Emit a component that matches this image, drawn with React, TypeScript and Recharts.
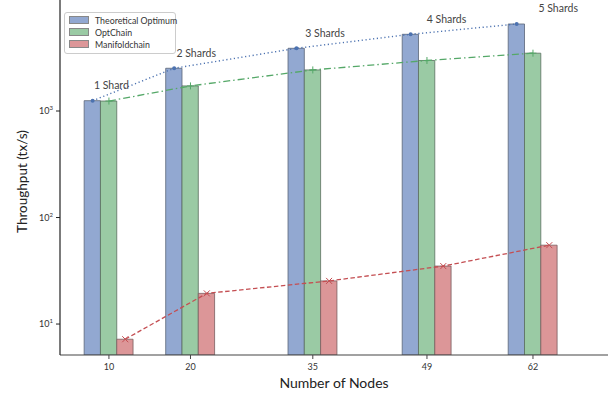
import { ComposedChart, Bar, Scatter, XAxis, YAxis, Legend, Label } from 'recharts'

const nodes = [10, 20, 35, 49, 62]
const theoretical = [1250, 2520, 3880, 5250, 6560]
const optChain = [1240, 1720, 2430, 2980, 3490]
const manifold = [7.2, 19.4, 25.4, 35, 55]
const shardLabels = ['1 Shard', '2 Shards', '3 Shards', '4 Shards', '5 Shards']
const shardLabelX = [10.3, 20.7, 36.5, 51.4, 65.1]
const yTicks = [10, 100, 1000]

const BAR_W = 2
const FONT = 'Lato, "Open Sans", sans-serif'
const BLUE = '#4c72b0'
const GREEN = '#55a868'
const RED = '#c44e52'

const barData = nodes.map((n, i) => ({ nodes: n, theo: theoretical[i], opt: optChain[i], manifold: manifold[i] }))
const theoPts = nodes.map((n, i) => ({ x: n - BAR_W, y: theoretical[i] }))
const optPts = nodes.map((n, i) => ({ x: n, y: optChain[i] }))
const manPts = nodes.map((n, i) => ({ x: n + BAR_W, y: manifold[i] }))
const shardPts = nodes.map((n, i) => ({ x: shardLabelX[i], y: theoretical[i] * 1.4, label: shardLabels[i] }))

const legendItems = [
  { name: 'Theoretical Optimum', color: '#92a8d1' },
  { name: 'OptChain', color: '#9acaa4' },
  { name: 'Manifoldchain', color: '#dc9698' },
]

const LogTick = ({ x, y, payload }: any) => {
  const exp = Math.round(Math.log10(payload.value))
  return (
    <text x={x} y={y} dy={3} textAnchor="end" fontSize={9} fill="#333" fontFamily={FONT}>
      10<tspan dy={-4} fontSize={6}>{exp}</tspan>
    </text>
  )
}

const Dot = ({ cx, cy }: any) => <circle cx={cx} cy={cy} r={2} fill={BLUE} />
const Plus = ({ cx, cy }: any) => (
  <path d={`M${cx - 3.5},${cy}H${cx + 3.5}M${cx},${cy - 3.5}V${cy + 3.5}`} stroke={GREEN} strokeWidth={1} />
)
const Cross = ({ cx, cy }: any) => (
  <path d={`M${cx - 3},${cy - 3}L${cx + 3},${cy + 3}M${cx - 3},${cy + 3}L${cx + 3},${cy - 3}`} stroke={RED} strokeWidth={1} />
)
const ShardText = ({ cx, cy, payload }: any) => (
  <text x={cx} y={cy} dy={4} textAnchor="middle" fontSize={10.5} fill="#444" fontFamily={FONT}>
    {payload.label}
  </text>
)

const LegendBox = () => (
  <div style={{ boxSizing: 'border-box', width: 112, background: '#fff', border: '1px solid #ccc', borderRadius: 3, padding: '1px 2px 3px 4px', fontFamily: FONT, fontSize: 8.8, color: '#333', whiteSpace: 'nowrap' }}>
    {legendItems.map(it => (
      <div key={it.name} style={{ display: 'flex', alignItems: 'center', height: 12 }}>
        <span style={{ display: 'inline-block', flex: 'none', width: 18, height: 6, background: it.color, border: '0.5px solid #888', marginRight: 6 }} />
        {it.name}
      </div>
    ))}
  </div>
)

const YLabel = ({ viewBox }: any) => {
  const cx = 22
  const cy = viewBox.y + viewBox.height / 2 + 4
  return (
    <text x={cx} y={cy} transform={`rotate(-90 ${cx} ${cy})`} textAnchor="middle" dominantBaseline="central" fontSize={13.5} fill="#222" fontFamily={FONT}>
      Throughput (tx/s)
    </text>
  )
}

export default function App() {
  return (
    <div style={{ position: 'absolute', left: 0, top: 0, width: 611, height: 401, background: '#fff' }}>
      <ComposedChart width={611} height={401} data={barData} margin={{ top: 0, right: 3, bottom: 0, left: 0 }} barGap={0}>
        <XAxis
          dataKey="nodes"
          type="number"
          domain={[4, 71.2]}
          allowDataOverflow
          ticks={nodes}
          height={46}
          tickSize={4}
          tickMargin={5}
          tick={{ fontSize: 9, fill: '#333', fontFamily: FONT }}
          stroke="#444"
          axisLine={{ stroke: '#444', strokeWidth: 1.2 }}
        >
          <Label value="Number of Nodes" position="insideBottom" offset={13} style={{ fontSize: 14, fill: '#222', fontFamily: FONT }} />
        </XAxis>
        <XAxis xAxisId="pts" dataKey="x" type="number" domain={[4, 71.2]} allowDataOverflow hide />
        <YAxis
          scale="log"
          domain={[5.12, 11020]}
          allowDataOverflow
          ticks={yTicks}
          width={60}
          tickSize={4}
          tickMargin={3}
          tick={<LogTick />}
          stroke="#222"
          axisLine={{ stroke: '#222', strokeWidth: 1.2 }}
        >
          <Label content={<YLabel />} />
        </YAxis>
        <Legend layout="vertical" align="center" verticalAlign="middle" wrapperStyle={{ left: 64, top: 12, width: 'auto' }} content={<LegendBox />} />
        <Bar dataKey="theo" barSize={16.3} fill="#92a8d1" stroke="#5b6577" strokeWidth={0.8} isAnimationActive={false} />
        <Bar dataKey="opt" barSize={16.3} fill="#9acaa4" stroke="#5b6f60" strokeWidth={0.8} isAnimationActive={false} />
        <Bar dataKey="manifold" barSize={16.3} fill="#dc9698" stroke="#7a5e5f" strokeWidth={0.8} isAnimationActive={false} />
        <Scatter xAxisId="pts" data={theoPts} dataKey="y" shape={<Dot />} line={{ stroke: BLUE, strokeWidth: 1.4, strokeDasharray: '1.2 2.6' }} isAnimationActive={false} />
        <Scatter xAxisId="pts" data={optPts} dataKey="y" shape={<Plus />} line={{ stroke: GREEN, strokeWidth: 1.3, strokeDasharray: '7 3 1.5 3' }} isAnimationActive={false} />
        <Scatter xAxisId="pts" data={manPts} dataKey="y" shape={<Cross />} line={{ stroke: RED, strokeWidth: 1.3, strokeDasharray: '4.5 2.5' }} isAnimationActive={false} />
        <Scatter xAxisId="pts" data={shardPts} dataKey="y" shape={<ShardText />} isAnimationActive={false} />
      </ComposedChart>
    </div>
  )
}
